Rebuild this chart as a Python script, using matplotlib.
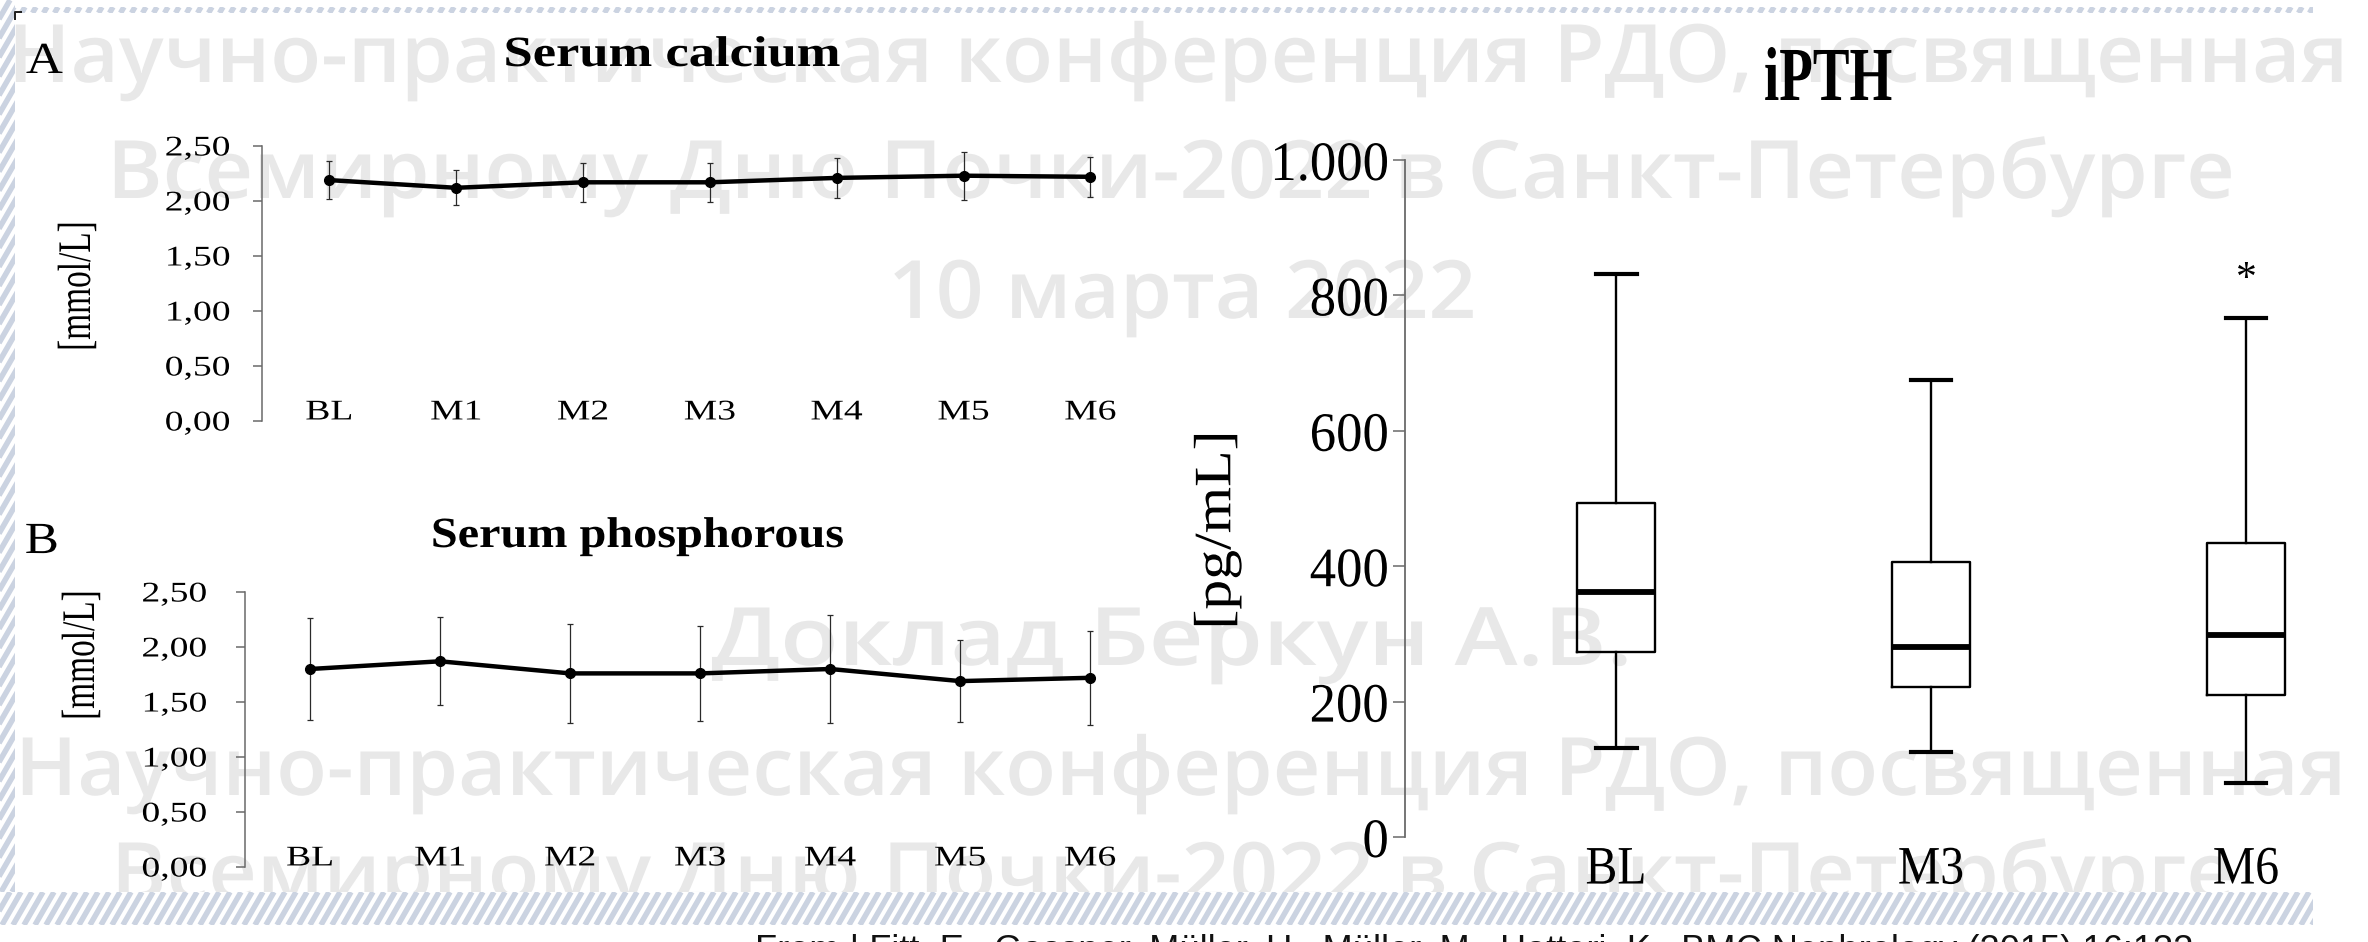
import numpy as np
import matplotlib
matplotlib.use("Agg")
import matplotlib.pyplot as plt
from matplotlib import patheffects
from matplotlib.transforms import Affine2D
from matplotlib.patches import Rectangle
from matplotlib.collections import LineCollection
from matplotlib.lines import Line2D

# ---------------- data ----------------
mineral_visits = ["BL", "M1", "M2", "M3", "M4", "M5", "M6"]
calcium_mean = [2.19, 2.12, 2.17, 2.17, 2.21, 2.23, 2.22]
calcium_sd = [0.17, 0.16, 0.18, 0.175, 0.18, 0.22, 0.18]
phosphorus_mean = [1.80, 1.87, 1.76, 1.76, 1.80, 1.69, 1.72]
phosphorus_sd = [0.46, 0.40, 0.45, 0.43, 0.49, 0.37, 0.43]
mineral_ticks = [0.0, 0.5, 1.0, 1.5, 2.0, 2.5]
mineral_tick_labels = ["0,00", "0,50", "1,00", "1,50", "2,00", "2,50"]

pth_visits = ["BL", "M3", "M6"]
pth_whisker_low = [131, 126, 80]
pth_q1 = [273, 221, 210]
pth_median = [362, 281, 298]
pth_q3 = [494, 406, 434]
pth_whisker_high = [832, 675, 767]
pth_marks = ["", "", "*"]
pth_ticks = [0, 200, 400, 600, 800, 1000]
pth_tick_labels = ["0", "200", "400", "600", "800", "1.000"]

watermark_text = [
    "Научно-практическая конференция РДО, посвященная",
    "Всемирному Дню Почки-2022 в Санкт-Петербурге",
    "10 марта 2022",
    "Доклад Беркун А.В.",
    "Научно-практическая конференция РДО, посвященная",
    "Всемирному Дню Почки-2022 в Санкт-Петербурге",
]
citation = ("From | Fitt, E., Gassner, Müller, U., Müller, M., Hattori, K., "
            "BMC Nephrology (2015) 16:133")

# ---------------- layout / style ----------------
W, H, DPI = 2368, 942, 100
SX_LEFT, SX_RIGHT = 1.32, 0.95
INK = "black"
AXIS_GRAY = "#6a6a6a"
WM_COLOR = "#e8e8e8"
STRIPE = "#cbd3e1"
PT = 72.0 / DPI  # points per pixel

plt.rcParams["font.family"] = ["Liberation Serif", "DejaVu Serif"]


class Stretch(patheffects.AbstractPathEffect):
    """Draw text scaled horizontally (in display space) about an anchor."""

    def __init__(self, sx, anchor="center"):
        super().__init__()
        self.sx = sx
        self.anchor = anchor

    def draw_path(self, renderer, gc, tpath, affine, rgbFace=None):
        bb = tpath.get_extents(affine)
        if self.anchor == "left":
            cx = bb.x0
        elif self.anchor == "right":
            cx = bb.x1
        else:
            cx = 0.5 * (bb.x0 + bb.x1)
        t = affine + Affine2D().translate(-cx, 0).scale(self.sx, 1).translate(cx, 0)
        renderer.draw_path(gc, tpath, t, rgbFace)


fig = plt.figure(figsize=(W / DPI, H / DPI), dpi=DPI)
fig.patch.set_facecolor("white")
PX = Affine2D().scale(1.0 / W, -1.0 / H).translate(0, 1) + fig.transFigure


def px_axes(left, top, right, bottom):
    ax = fig.add_axes([left / W, 1 - bottom / H, (right - left) / W, (bottom - top) / H])
    ax.set_facecolor("none")
    for side in ("top", "right", "bottom"):
        ax.spines[side].set_visible(False)
    ax.spines["left"].set_color(AXIS_GRAY)
    ax.spines["left"].set_linewidth(1.1)
    return ax


def stretch_labels(labels, sx, anchor):
    for lbl in labels:
        lbl.set_path_effects([Stretch(sx, anchor)])


# ---------------- watermark (behind the charts) ----------------
wm_layout = [  # (baseline, x_start, x_end) in pixels
    (82, 8, 2347),
    (198, 107, 2234),
    (318, 888, 1476),
    (665, 711, 1632),
    (795, 15, 2345),
    (900, 111, 2234),
]
wm_artists = []
for text, (base, xs, xe) in zip(watermark_text, wm_layout):
    t = fig.text((xs + xe) / 2, base, text, transform=PX, ha="center", va="baseline",
                 fontsize=58, color=WM_COLOR, fontweight="semibold",
                 family=["Open Sans", "DejaVu Sans"], zorder=-5)
    wm_artists.append((t, xe - xs))


# ---------------- mineral panels ----------------
def mineral_panel(box, means, sds, title, title_xy, title_sx, letter_xy, letter,
                  ylabel_xy, ypad):
    left, top, right, bottom = box
    ax = px_axes(left, top, right, bottom)
    x = np.arange(len(mineral_visits))
    ax.errorbar(x, means, yerr=sds, fmt="-o", color=INK, lw=3.2, ms=7,
                ecolor="#2a2a2a", elinewidth=0.9, capsize=2.5, capthick=0.9, zorder=3)
    ax.set_ylim(0, 2.5)
    ax.set_yticks(mineral_ticks, mineral_tick_labels)
    ax.set_xticks(x, mineral_visits)
    ax.tick_params(axis="y", length=6.5, width=1.1, color=AXIS_GRAY, pad=ypad,
                   labelsize=20.5, labelcolor=INK)
    ax.tick_params(axis="x", length=0, pad=-5.8, labelsize=20.5, labelcolor=INK)
    for lbl in ax.get_xticklabels():
        lbl.set_va("center")
    stretch_labels(ax.get_yticklabels(), SX_LEFT, "right")
    stretch_labels(ax.get_xticklabels(), SX_LEFT, "center")
    ax.set_ylabel("[mmol/L]", fontsize=24, va="center")
    ax.yaxis.set_label_coords((ylabel_xy[0] - left) / (right - left),
                              (bottom - ylabel_xy[1]) / (bottom - top))
    ax.yaxis.label.set_path_effects([Stretch(1.4, "center")])
    fig.text(title_xy[0], title_xy[1], title, transform=PX, ha="center", va="baseline",
             fontsize=31, fontweight="bold",
             path_effects=[Stretch(title_sx, "center")])
    fig.text(letter_xy[0], letter_xy[1], letter, transform=PX, ha="left", va="baseline",
             fontsize=32, path_effects=[Stretch(1.15, "left")])
    return ax


ax_a = mineral_panel((262, 146, 1150, 421), calcium_mean, calcium_sd, "Serum calcium",
                     (672, 66), 1.22, (26, 73), "A", (78, 286), 16.5)
ax_a.set_xlim(-0.53, 6.47)
ax_b = mineral_panel((245, 592, 1150, 867), phosphorus_mean, phosphorus_sd, "Serum phosphorous",
                     (637, 547), 1.12, (25, 553), "B", (82, 655), 21)
ax_b.set_xlim(-0.5, 6.46)

# ---------------- iPTH panel ----------------
ax_c = px_axes(1405, 160, 2320, 837)
ax_c.spines["left"].set_linewidth(1.3)
stats = [dict(med=m, q1=a, q3=b, whislo=lo, whishi=hi, fliers=[])
         for m, a, b, lo, hi in zip(pth_median, pth_q1, pth_q3, pth_whisker_low, pth_whisker_high)]
pos = np.arange(len(pth_visits))
ax_c.bxp(stats, positions=pos, widths=0.245, capwidths=0.13, showfliers=False,
         boxprops=dict(color=INK, lw=1.7), whiskerprops=dict(color=INK, lw=1.7),
         capprops=dict(color=INK, lw=3.0), medianprops=dict(color=INK, lw=4.2))
for i, mark in enumerate(pth_marks):
    if mark:
        ax_c.text(pos[i], pth_whisker_high[i] + 41, mark, ha="center", va="baseline",
                  fontsize=30, color=INK)
ax_c.set_xlim(-0.67, 2.235)
ax_c.set_ylim(0, 1000)
ax_c.set_yticks(pth_ticks, pth_tick_labels)
ax_c.set_xticks(pos, pth_visits)
ax_c.tick_params(axis="y", length=8.6, width=1.1, color=AXIS_GRAY, pad=3.0,
                 labelsize=40, labelcolor=INK)
ax_c.tick_params(axis="x", length=0, pad=5.8, labelsize=39, labelcolor=INK)
stretch_labels(ax_c.get_yticklabels(), SX_RIGHT, "right")
stretch_labels(ax_c.get_xticklabels(), 0.88, "center")
ax_c.set_ylabel("[pg/mL]", fontsize=43, va="center")
ax_c.yaxis.set_label_coords((1218 - 1405) / 915, (837 - 530) / 677)
ax_c.yaxis.label.set_path_effects([Stretch(0.88, "center")])
fig.text(1828, 100, "iPTH", transform=PX, ha="center", va="baseline", fontsize=55,
         fontweight="bold", path_effects=[Stretch(0.72, "center")])


# ---------------- slide frame ----------------
def hatched_band(x0, y0, x1, y1):
    rect = Rectangle((x0, y0), x1 - x0, y1 - y0, transform=PX, facecolor="white",
                     edgecolor="none", zorder=5)
    fig.add_artist(rect)
    dx = (y1 - y0) / np.tan(np.radians(60))
    starts = np.arange(x0 - dx - 12, x1 + 12, 11.0)
    segs = [[(s, y1), (s + dx, y0)] for s in starts]
    lc = LineCollection(segs, transform=PX, colors=STRIPE, linewidths=5.5 * PT, zorder=5.1)
    lc.set_clip_path(rect)
    fig.add_artist(lc)


hatched_band(0, 0, 15, 892)
hatched_band(15, 7, 2313, 13)
hatched_band(0, 892, 2313, 925)
fig.add_artist(Line2D([15, 15, 21], [19, 12, 12], transform=PX, color="#222222",
                      lw=2 * PT, zorder=6))

cite = fig.text(755, 960, citation, transform=PX, ha="left", va="baseline", fontsize=20,
                color="#111111", family=["Liberation Sans", "DejaVu Sans"], zorder=6)

# fit watermark lines and citation to their spans
fig.canvas.draw()
renderer = fig.canvas.get_renderer()
for t, span in wm_artists:
    natural = t.get_window_extent(renderer).width
    t.set_path_effects([Stretch(span / natural, "center")])
fs = 20 * (2190 - 755) / cite.get_window_extent(renderer).width
cite.set_fontsize(fs)
cite.set_y(935 + 0.716 * fs / PT)

fig.savefig("out.png", dpi=DPI, facecolor="white")
